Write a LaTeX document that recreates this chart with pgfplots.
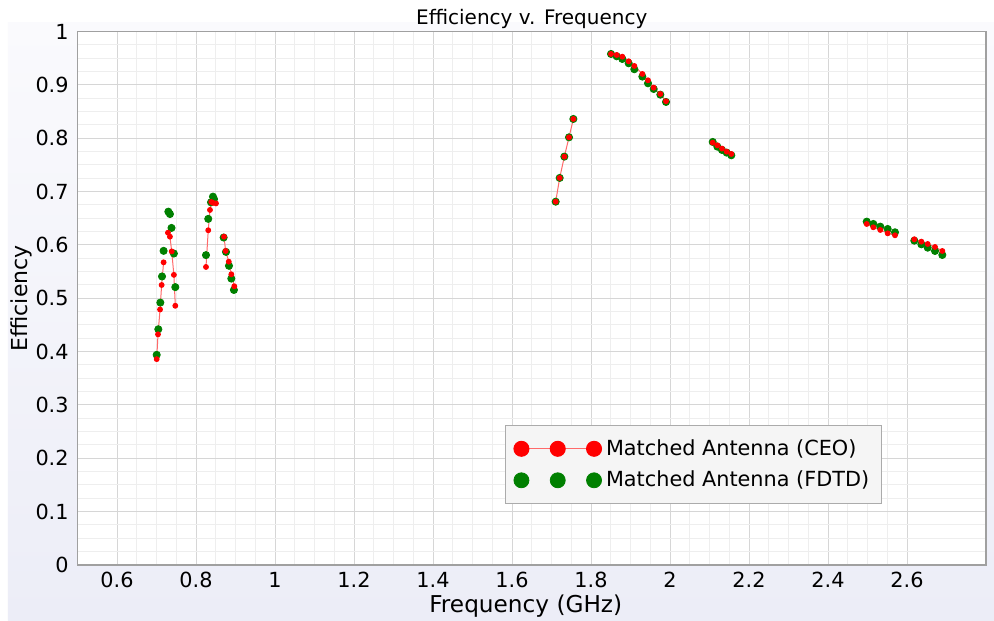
\documentclass[border=0pt]{standalone}
\usepackage{fontspec}
\setmainfont{DejaVu Sans}
\usepackage{pgfplots}
\pgfplotsset{compat=1.18}
\definecolor{ceored}{HTML}{FF0000}
\definecolor{ceoline}{HTML}{FF6A6A}
\definecolor{fdtdgreen}{HTML}{008000}
\definecolor{gridmaj}{HTML}{D6D6D6}
\definecolor{gridmin}{HTML}{EEEEEE}
\definecolor{axisgray}{HTML}{A0A0A0}
\definecolor{bgtop}{HTML}{FAFAFD}
\definecolor{bgbot}{HTML}{ECEDF7}

\begin{document}
\begin{tikzpicture}
% 1px = 0.5pt, axis lower left at (0,0)
\useasboundingbox (-38.75pt,-27.5pt) rectangle (458.25pt,282.5pt);
\fill[white] (-38.75pt,-27.5pt) rectangle (458.25pt,282.5pt);
\shade[top color=bgtop,bottom color=bgbot] (-34.75pt,-27.5pt) rectangle (458.25pt,271pt);
\begin{axis}[
  scale only axis,width=454.25pt,height=266.67pt,
  xmin=0.5,xmax=2.8,ymin=0,ymax=1,
  xtick={0.6,0.8,1,1.2,1.4,1.6,1.8,2,2.2,2.4,2.6},
  ytick={0,0.1,0.2,0.3,0.4,0.5,0.6,0.7,0.8,0.9,1},
  minor x tick num=3,minor y tick num=3,
  grid=both,major grid style={gridmaj,line width=0.5pt},minor grid style={gridmin,line width=0.5pt},
  axis line style={axisgray,line width=0.6pt},
  major tick length=0pt,minor tick length=0pt,
  axis background/.style={fill=white},
  /pgf/number format/assume math mode=true,
  tick label style={font=\fontsize{10.4}{12}\selectfont},
  yticklabel style={inner sep=0pt,xshift=-4.25pt},
  xticklabel style={inner sep=0pt,yshift=-3.25pt},
  title={Efficiency v. Frequency},
  every axis title/.style={font=\fontsize{10}{12}\selectfont,at={(0.5,1)},anchor=base,yshift=3.6pt},
  xlabel={Frequency (GHz)},
  every axis x label/.style={font=\fontsize{11.6}{13}\selectfont,at={(axis description cs:0.5,0)},anchor=base,xshift=-3pt,yshift=-23.5pt},
  ylabel={Efficiency},
  every axis y label/.style={font=\fontsize{11}{13}\selectfont,at={(axis description cs:-0.0622,0.5)},anchor=center,rotate=90},
  unbounded coords=jump,
  reverse legend,
  legend style={at={(0.4706,0.2625)},anchor=north west,draw=black!33,fill=black!4,
    font=\fontsize{10.4}{12}\selectfont,inner xsep=4pt,inner ysep=5pt,row sep=2.35pt},
  legend cell align=left,
]
\addplot[only marks,mark=*,mark size=1.8pt,color=fdtdgreen,
  legend image code/.code={
    \fill[fdtdgreen] (0pt,0pt) circle (3.75pt) (18.15pt,0pt) circle (3.75pt) (36.3pt,0pt) circle (3.75pt);}]
  coordinates {
 (0.7005,0.394) (0.7046,0.442) (0.7097,0.492) (0.714,0.541) (0.718,0.589)
 (0.730,0.6625) (0.734,0.658) (0.738,0.632) (0.744,0.584) (0.7476,0.521)
 (0.8253,0.581) (0.831,0.649) (0.838,0.680) (0.843,0.6906) (0.8456,0.686)
 (0.870,0.614) (0.876,0.587) (0.8835,0.561) (0.8894,0.537) (0.896,0.5157)
 (1.7106,0.6812) (1.7207,0.7257) (1.7325,0.7657) (1.7443,0.8019) (1.7553,0.8363)
 (1.8506,0.9582) (1.8650,0.9538) (1.8793,0.9488) (1.8954,0.9407) (1.9097,0.9295)
 (1.9300,0.9157) (1.9443,0.9032) (1.9587,0.8925) (1.9755,0.8819) (1.9899,0.8682)
 (2.1081,0.7932) (2.1198,0.7844) (2.1316,0.7782) (2.1435,0.7732) (2.1552,0.7682)
 (2.498,0.6438) (2.5147,0.6394) (2.5324,0.6344) (2.5511,0.6300) (2.5696,0.6238)
 (2.6185,0.6081) (2.6363,0.6013) (2.6524,0.5950) (2.6709,0.5888) (2.6894,0.5813)
};
\addlegendentry{Matched Antenna (FDTD)}
\addplot[color=ceoline,line width=0.5pt,mark=*,mark size=1.2pt,
  mark options={draw=ceored,fill=ceored},
  legend image code/.code={
    \draw[ceoline,line width=0.6pt] (0pt,0pt) -- (36.3pt,0pt);
    \fill[ceored] (0pt,0pt) circle (3.75pt) (18.15pt,0pt) circle (3.75pt) (36.3pt,0pt) circle (3.75pt);}]
  coordinates {
 (0.7005,0.386) (0.7038,0.4325) (0.709,0.479) (0.713,0.525) (0.718,0.5675)
 (0.723,nan)
 (0.729,0.623) (0.734,0.6156) (0.7385,0.588) (0.744,0.544) (0.7476,0.486)
 (0.79,nan)
 (0.8253,0.5588) (0.831,0.6276) (0.8354,0.6657) (0.8387,0.6807) (0.843,0.679) (0.8506,0.678)
 (0.86,nan)
 (0.871,0.6156) (0.875,0.5888) (0.883,0.5687) (0.8894,0.545) (0.897,0.5226)
 (1.3,nan)
 (1.7106,0.6812) (1.7207,0.7257) (1.7325,0.7657) (1.7443,0.8019) (1.7553,0.8363)
 (1.8,nan)
 (1.8506,0.9582) (1.8650,0.9563) (1.8793,0.9531) (1.8954,0.9444) (1.9097,0.9357)
 (1.9300,0.9207) (1.9443,0.9088) (1.9587,0.8950) (1.9755,0.8832) (1.9899,0.8695)
 (2.05,nan)
 (2.1081,0.7919) (2.1198,0.7869) (2.1316,0.7807) (2.1435,0.7750) (2.1552,0.7707)
 (2.3,nan)
 (2.498,0.6394) (2.5147,0.6332) (2.5324,0.6282) (2.5511,0.6219) (2.5696,0.6182)
 (2.6,nan)
 (2.6185,0.6107) (2.6363,0.6063) (2.6524,0.6019) (2.6709,0.5963) (2.6894,0.5888)
};
\addlegendentry{Matched Antenna (CEO)}
\end{axis}
\end{tikzpicture}
\end{document}
